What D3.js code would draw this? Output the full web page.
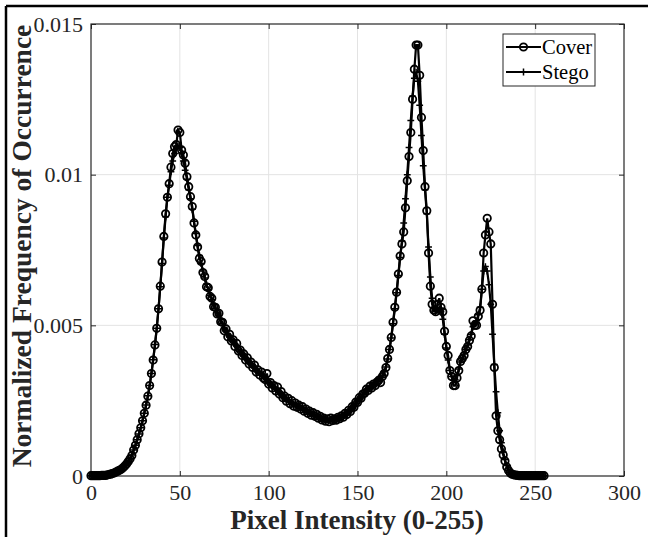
<!DOCTYPE html>
<html><head><meta charset="utf-8">
<script src="https://cdn.jsdelivr.net/npm/d3@7"></script>
<style>body{margin:0;background:#fff}svg{display:block}</style>
</head><body>
<script>
const intensity = d3.range(0, 256);
const cover = [
.00001,.00001,.00001,.00001,.00001,.00001,.00002,.00002,.00002,.00003,
.00005,.00006,.00008,.00010,.00013,.00016,.00019,.00022,.00027,.00033,
.00040,.00048,.00057,.00068,.00086,.00102,.00120,.00140,.00160,.00183,
.00208,.00235,.00265,.00300,.00340,.00385,.00435,.00490,.00555,.00630,
.00710,.00795,.00870,.00925,.00970,.01025,.01070,.01093,.01100,.01148,
.01140,.01082,.01065,.01038,.00993,.00960,.00927,.00894,.00840,.00800,
.00760,.00722,.00712,.00675,.00662,.00628,.00625,.00596,.00590,.00562,
.00560,.00538,.00540,.00512,.00510,.00482,.00488,.00462,.00470,.00448,
.00452,.00430,.00440,.00415,.00418,.00400,.00405,.00385,.00392,.00372,
.00378,.00360,.00368,.00345,.00352,.00335,.00345,.00325,.00320,.00340,
.00305,.00310,.00292,.00300,.00282,.00295,.00272,.00280,.00260,.00265,
.00248,.00258,.00240,.00250,.00232,.00242,.00228,.00235,.00222,.00230,
.00215,.00222,.00208,.00215,.00202,.00210,.00198,.00205,.00192,.00198,
.00186,.00192,.00182,.00190,.00180,.00192,.00184,.00190,.00185,.00195,
.00190,.00200,.00195,.00208,.00204,.00218,.00214,.00230,.00228,.00245,
.00244,.00260,.00258,.00272,.00275,.00288,.00284,.00298,.00292,.00305,
.00300,.00312,.00318,.00310,.00330,.00340,.00360,.00390,.00420,.00460,
.00510,.00560,.00610,.00670,.00730,.00770,.00810,.00890,.00980,.01060,
.01140,.01250,.01350,.01430,.01430,.01330,.01190,.01080,.00960,.00880,
.00740,.00630,.00570,.00550,.00545,.00570,.00590,.00560,.00545,.00480,
.00430,.00400,.00350,.00330,.00300,.00300,.00325,.00350,.00380,.00390,
.00400,.00420,.00430,.00450,.00465,.00515,.00500,.00500,.00530,.00550,
.00620,.00740,.00800,.00855,.00810,.00770,.00570,.00360,.00200,.00150,
.00120,.00090,.00070,.00050,.00030,.00018,.00010,.00006,.00004,.00003,
.00002,.00001,.00001,.00001,.00001,.00001,.00001,.00001,.00001,.00001,
.00001,.00001,.00001,.00001,.00001,.00001
];
const stego = [
.00001,.00001,.00001,.00001,.00001,.00001,.00002,.00002,.00002,.00003,
.00005,.00006,.00008,.00010,.00013,.00016,.00019,.00023,.00028,.00034,
.00041,.00049,.00058,.00070,.00086,.00102,.00120,.00139,.00160,.00183,
.00208,.00236,.00266,.00300,.00340,.00386,.00436,.00490,.00555,.00628,
.00705,.00790,.00860,.00925,.00965,.01010,.01045,.01070,.01088,.01095,
.01090,.01070,.01045,.01015,.00985,.00950,.00920,.00885,.00845,.00805,
.00765,.00732,.00705,.00680,.00657,.00636,.00618,.00600,.00585,.00570,
.00556,.00544,.00532,.00519,.00505,.00492,.00481,.00470,.00462,.00454,
.00446,.00438,.00430,.00421,.00412,.00405,.00397,.00390,.00384,.00377,
.00370,.00364,.00358,.00352,.00346,.00340,.00335,.00330,.00324,.00318,
.00311,.00305,.00300,.00294,.00289,.00283,.00277,.00270,.00262,.00256,
.00254,.00250,.00246,.00241,.00238,.00235,.00232,.00229,.00226,.00222,
.00218,.00215,.00212,.00209,.00207,.00204,.00200,.00197,.00195,.00192,
.00190,.00189,.00189,.00188,.00187,.00187,.00186,.00186,.00187,.00190,
.00193,.00196,.00199,.00203,.00207,.00212,.00218,.00225,.00233,.00241,
.00248,.00255,.00262,.00270,.00278,.00284,.00290,.00295,.00300,.00306,
.00311,.00315,.00320,.00326,.00333,.00346,.00362,.00388,.00420,.00458,
.00505,.00555,.00608,.00665,.00725,.00780,.00840,.00920,.01000,.01090,
.01180,.01260,.01320,.01340,.01310,.01230,.01130,.01030,.00950,.00870,
.00760,.00660,.00590,.00555,.00545,.00550,.00555,.00545,.00520,.00470,
.00425,.00385,.00350,.00330,.00318,.00320,.00335,.00355,.00378,.00392,
.00405,.00420,.00435,.00452,.00470,.00495,.00505,.00515,.00535,.00560,
.00620,.00680,.00695,.00680,.00635,.00570,.00470,.00370,.00280,.00210,
.00150,.00110,.00080,.00055,.00035,.00020,.00012,.00007,.00004,.00003,
.00002,.00001,.00001,.00001,.00001,.00001,.00001,.00001,.00001,.00001,
.00001,.00001,.00001,.00001,.00001,.00001
];
const xTicks = [0, 50, 100, 150, 200, 250, 300];
const yTicks = [0, 0.005, 0.01, 0.015];
const yTickLabels = ["0", "0.005", "0.01", "0.015"];
const seriesNames = ["Cover", "Stego"];

const W = 648, H = 537;
const m = {left: 91, top: 24, right: 624, bottom: 476};
const FONT = "'Liberation Serif','Times New Roman',serif";
const TXT = "#262626";

const svg = d3.select("body").append("svg").attr("width", W).attr("height", H);

// outer frame (top & left)
svg.append("line").attr("x1", 6).attr("x2", W).attr("y1", 6).attr("y2", 6).attr("stroke", "#000").attr("stroke-width", 2.5);
svg.append("line").attr("x1", 6).attr("x2", 6).attr("y1", 6).attr("y2", H).attr("stroke", "#000").attr("stroke-width", 2.5);

const x = d3.scaleLinear().domain([0, 300]).range([m.left, m.right]);
const y = d3.scaleLinear().domain([0, 0.015]).range([m.bottom, m.top]);

// grid
const grid = svg.append("g");
grid.selectAll(".gx").data(xTicks.slice(1, -1)).join("line")
  .attr("x1", d => x(d)).attr("x2", d => x(d)).attr("y1", m.top).attr("y2", m.bottom)
  .attr("stroke", "#e3e3e3").attr("stroke-width", 1);
grid.selectAll(".gy").data(yTicks.slice(1, -1)).join("line")
  .attr("x1", m.left).attr("x2", m.right).attr("y1", d => y(d)).attr("y2", d => y(d))
  .attr("stroke", "#e3e3e3").attr("stroke-width", 1);

// axes with inward ticks
const tl = 5;
const gxB = svg.append("g").attr("transform", `translate(0,${m.bottom})`)
  .call(d3.axisBottom(x).tickValues(xTicks).tickSize(-tl).tickPadding(8).tickFormat(d3.format("d")));
const gxT = svg.append("g").attr("transform", `translate(0,${m.top})`)
  .call(d3.axisTop(x).tickValues(xTicks).tickSize(-tl).tickFormat(""));
const gyL = svg.append("g").attr("transform", `translate(${m.left},0)`)
  .call(d3.axisLeft(y).tickValues(yTicks).tickSize(-tl).tickPadding(8).tickFormat((d, i) => yTickLabels[i]));
const gyR = svg.append("g").attr("transform", `translate(${m.right},0)`)
  .call(d3.axisRight(y).tickValues(yTicks).tickSize(-tl).tickFormat(""));
[gxB, gxT, gyL, gyR].forEach(g => {
  g.select(".domain").remove();
  g.selectAll(".tick line").attr("stroke", TXT).attr("stroke-width", 1);
  g.selectAll("text").attr("font-family", FONT).attr("font-size", 22).attr("fill", TXT);
});
gxB.selectAll("text").attr("dy", "0.71em");

// box
svg.append("rect").attr("x", m.left).attr("y", m.top).attr("width", m.right - m.left).attr("height", m.bottom - m.top)
  .attr("fill", "none").attr("stroke", TXT).attr("stroke-width", 1.2);

// series
const line = d3.line().x((d, i) => x(intensity[i])).y(d => y(d));
const plot = svg.append("g");
const R = 3.7;
plot.append("path").datum(cover).attr("d", line).attr("fill", "none").attr("stroke", "#000").attr("stroke-width", 2.2);
plot.selectAll(".c").data(cover).join("circle")
  .attr("cx", (d, i) => x(intensity[i])).attr("cy", d => y(d)).attr("r", R)
  .attr("fill", "none").attr("stroke", "#000").attr("stroke-width", 1.8);
plot.append("path").datum(stego).attr("d", line).attr("fill", "none").attr("stroke", "#000").attr("stroke-width", 2.2);
const ps = 3.4;
plot.selectAll(".s").data(stego).join("path")
  .attr("d", (d, i) => {
    const cx = x(intensity[i]), cy = y(d);
    return `M${cx - ps},${cy}H${cx + ps}M${cx},${cy - ps}V${cy + ps}`;
  })
  .attr("stroke", "#000").attr("stroke-width", 1.5).attr("fill", "none");

// legend
const lg = svg.append("g");
lg.append("rect").attr("x", 503).attr("y", 34).attr("width", 92).attr("height", 52)
  .attr("fill", "#fff").attr("stroke", TXT).attr("stroke-width", 1);
seriesNames.forEach((name, i) => {
  const cy = 47 + i * 25;
  lg.append("line").attr("x1", 506).attr("x2", 541).attr("y1", cy).attr("y2", cy).attr("stroke", "#000").attr("stroke-width", 2.2);
  if (i === 0) {
    lg.append("circle").attr("cx", 523.5).attr("cy", cy).attr("r", R).attr("fill", "none").attr("stroke", "#000").attr("stroke-width", 1.8);
  } else {
    lg.append("path").attr("d", `M${523.5 - ps},${cy}H${523.5 + ps}M${523.5},${cy - ps}V${cy + ps}`).attr("stroke", "#000").attr("stroke-width", 1.5);
  }
  lg.append("text").attr("x", 542).attr("y", cy).attr("dy", "0.35em").text(name)
    .attr("font-family", FONT).attr("font-size", 20.5).attr("fill", "#000");
});

// axis titles
svg.append("text").attr("x", 357).attr("y", 529).attr("text-anchor", "middle")
  .attr("font-family", FONT).attr("font-weight", "bold").attr("font-size", 27).attr("fill", TXT)
  .text("Pixel Intensity (0-255)");
svg.append("text").attr("transform", `translate(31,${(m.top + m.bottom) / 2 - 4}) rotate(-90)`).attr("text-anchor", "middle")
  .attr("font-family", FONT).attr("font-weight", "bold").attr("font-size", 27.5).attr("fill", TXT)
  .text("Normalized Frequency of Occurrence");
</script>
</body></html>
